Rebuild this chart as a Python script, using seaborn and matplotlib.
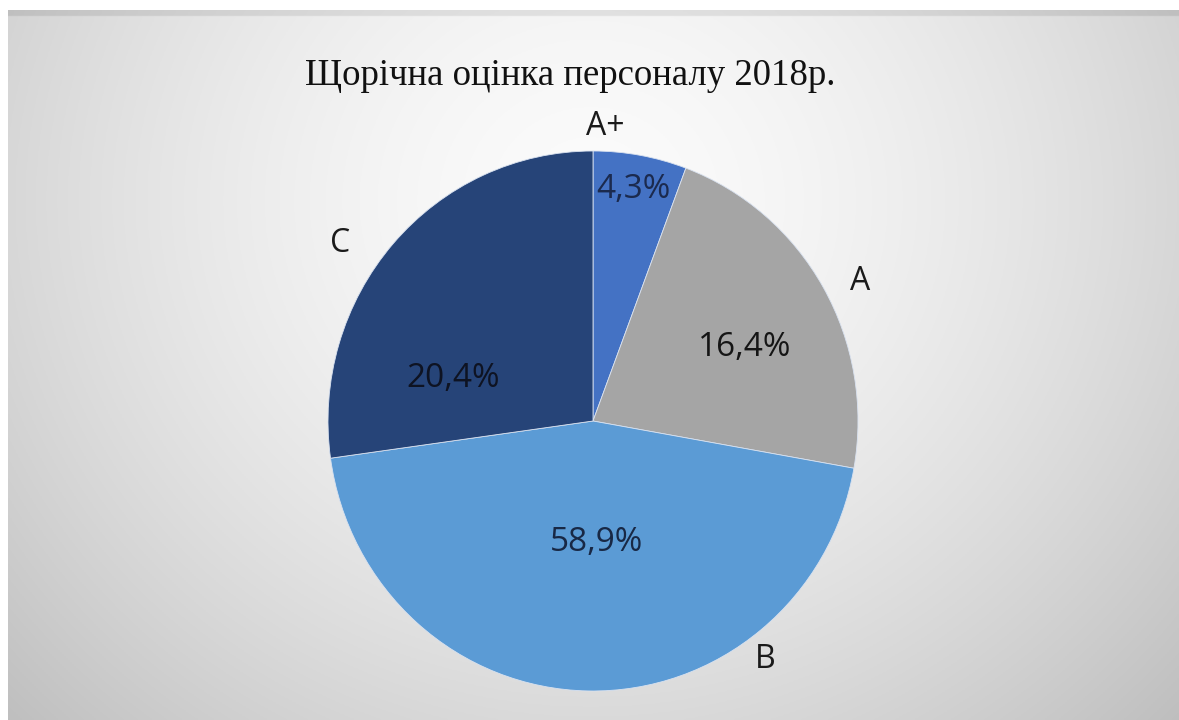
import numpy as np
import matplotlib
matplotlib.use("Agg")
import matplotlib.pyplot as plt
import seaborn as sns

# ---- data ----
categories = ["A+", "A", "B", "C"]
drawn_shares = [5.7, 22.1, 45.0, 27.2]          # slice sizes as drawn in the picture
pct_labels = ["4,3%", "16,4%", "58,9%", "20,4%"]  # labels printed on the slices
title = "Щорічна оцінка персоналу 2018р."

# ---- style / layout ----
colors = ["#4472C4", "#A5A5A5", "#5B9BD5", "#264478"]
pct_colors = ["#1B2A4E", "#151515", "#182845", "#0E1322"]
cat_pos = [(0.045, 1.089), (1.008, 0.515), (0.649, -0.885), (-0.955, 0.659)]
pct_pos = [(0.151, 0.856), (0.574, 0.274), (0.015, -0.451), (-0.528, 0.159)]

sns.set_theme(style="white")
plt.rcParams["font.family"] = ["Open Sans", "DejaVu Sans"]

W, H = 1179, 720
fig = plt.figure(figsize=(W / 100, H / 100), dpi=100)
fig.patch.set_facecolor("white")

# background panel with soft radial gradient
bg = fig.add_axes([8 / W, 0, 1 - 8 / W, 710 / H])
bg.set_axis_off()
ny, nx = 355, 585
yy, xx = np.mgrid[0:ny, 0:nx]
cx, cy = 582 / 1171 * nx, 190 / 710 * ny
rx, ry = 0.62 * nx, 0.95 * ny
r = np.sqrt(((xx - cx) / rx) ** 2 + ((yy - cy) / ry) ** 2)
v = 0.985 - 0.20 * np.clip(r, 0, 1.3) ** 1.6
v = np.clip(v, 0.74, 1.0)
v[:3, :] = v[:3, :] - 0.08
bg.imshow(np.dstack([v, v, v]), extent=[0, 1, 0, 1], aspect="auto", origin="upper")
bg.set_xlim(0, 1)
bg.set_ylim(0, 1)

# pie axes
ax = fig.add_axes([0, 0, 1, 1])
ax.patch.set_alpha(0)
ccx, ccy = 593, 299   # pie centre in pixels from bottom-left
rx_px, ry_px = 265, 270
wedges, _ = ax.pie(drawn_shares, colors=colors, startangle=90, counterclock=False,
                   wedgeprops=dict(edgecolor="#D9E2F0", linewidth=0.6))
ax.set_aspect("auto")
ax.set_xlim(-ccx / rx_px, (W - ccx) / rx_px)
ax.set_ylim(-ccy / ry_px, (H - ccy) / ry_px)
ax.set_axis_off()

for lab, (x, y) in zip(categories, cat_pos):
    ax.text(x, y, lab, ha="center", va="center", fontsize=23, color="#1a1a1a")
for lab, (x, y), c in zip(pct_labels, pct_pos, pct_colors):
    ax.text(x, y, lab, ha="center", va="center", fontsize=24, color=c)

fig.text(570 / W, 1 - 76 / H, title, ha="center", va="center", fontsize=26.5,
         family=["Liberation Serif", "DejaVu Serif"], color="#111111")

fig.savefig("out.png", dpi=100)
